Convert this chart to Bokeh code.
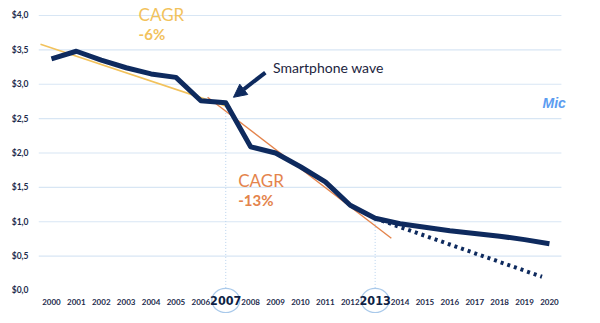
from bokeh.plotting import figure
from bokeh.models import FixedTicker, Arrow, NormalHead, Range1d, Label
from bokeh.core.properties import value
from bokeh.embed import file_html
from bokeh.resources import INLINE

# ---- data ----
years = list(range(2000, 2021))
price = [3.37, 3.48, 3.35, 3.24, 3.15, 3.10, 2.76, 2.73, 2.09, 2.00, 1.80, 1.58, 1.24, 1.05,
         0.97, 0.92, 0.87, 0.83, 0.79, 0.74, 0.68]
fc_years = [2013, 2019.7]
fc_price = [1.05, 0.20]
cagr1_x = [1999.56, 2007.2]
cagr1_y = [3.58, 2.66]
cagr2_x = [2006.27, 2013.65]
cagr2_y = [2.81, 0.76]
y_ticks = [0.0, 0.5, 1.0, 1.5, 2.0, 2.5, 3.0, 3.5, 4.0]
y_labels = ["$0,0", "$0,5", "$1,0", "$1,5", "$2,0", "$2,5", "$3,0", "$3,5", "$4,0"]
x_labels = [str(y) for y in years]
highlight_years = [2007, 2013]
highlight_price = [2.73, 1.05]

NAVY = "#0e2a5e"
YEL = "#f2c25c"
ORA = "#e4844c"
FONT = "Lato"
X0, X1 = 1999.48, 2020.48

p = figure(width=600, height=323, output_backend="svg", toolbar_location=None,
           x_range=Range1d(X0, 2022.05), y_range=Range1d(-0.48, 4.218),
           min_border_left=38, min_border_right=0, min_border_top=0, min_border_bottom=0)
p.outline_line_color = None
p.background_fill_color = "white"
p.xaxis.visible = False
p.xgrid.visible = False
p.ygrid.visible = False
p.yaxis.ticker = FixedTicker(ticks=y_ticks)
p.yaxis.major_label_overrides = {t: l for t, l in zip(y_ticks, y_labels)}
p.yaxis.axis_line_color = None
p.yaxis.major_tick_line_color = None
p.yaxis.minor_tick_line_color = None
p.yaxis.major_label_text_font = FONT
p.yaxis.major_label_text_font_style = "bold"
p.yaxis.major_label_text_font_size = "8.5px"
p.yaxis.major_label_text_color = "#1d2b4c"
p.yaxis.major_label_standoff = 4

# grid lines
g = y_ticks[1:]
p.segment(x0=[X0] * len(g), y0=g, x1=[X1] * len(g), y1=g,
          line_color="#d8e6f4", line_width=1.2)

# vertical dotted markers
for yr, pr in zip(highlight_years, highlight_price):
    p.segment(x0=[yr], y0=[-0.05], x1=[yr], y1=[pr], line_color="#b8d3ee",
              line_dash="1 2", line_width=1)

# CAGR lines
p.line(cagr1_x, cagr1_y, line_color=YEL, line_width=1.6)
p.line(cagr2_x, cagr2_y, line_color=ORA, line_width=1.4)

# main series
p.line(years, price, line_color=NAVY, line_width=5, line_join="round")
p.line(fc_years, fc_price, line_color=NAVY, line_width=4, line_dash="3 4")

# x labels
norm_x = [y for y in years if y not in highlight_years]
norm_l = [str(y) for y in norm_x]
p.text(x=norm_x, y=[-0.17] * len(norm_x), text=norm_l, text_font=value(FONT),
       text_font_style="bold", text_font_size="8px", text_color="#1d2b4c",
       text_align="center", text_baseline="middle")
p.ellipse(x=highlight_years, y=[-0.145] * 2, width=1.12, height=0.35,
          fill_color="white", line_color="#a9c9ea", line_width=1.2)
p.text(x=highlight_years, y=[-0.145] * 2, text=[str(y) for y in highlight_years],
       text_font=value("DejaVu Sans Condensed, Roboto"), text_font_style="bold",
       text_font_size="12.5px", text_color="#0e1f45",
       text_align="center", text_baseline="middle")

# annotations
def lab(x, y, t, color, size, style="normal", font=FONT):
    p.add_layout(Label(x=x, y=y, text=t, text_font=font, text_font_size=size,
                       text_font_style=style, text_color=color, text_baseline="middle"))

lab(2003.5, 4.01, "CAGR", YEL, "17px")
lab(2003.5, 3.73, "-6%", YEL, "15px", "bold")
lab(2007.5, 1.6, "CAGR", ORA, "17px")
lab(2007.5, 1.31, "-13%", ORA, "15px", "bold")
lab(2008.9, 3.24, "Smartphone wave", "#1c2540", "14px")
lab(2019.72, 2.72, "Mic", "#5b9cf0", "14px", "bold italic", "Liberation Sans")

p.add_layout(Arrow(end=NormalHead(size=13, fill_color=NAVY, line_color=NAVY),
                   x_start=2008.59, y_start=3.17, x_end=2007.31, y_end=2.81,
                   line_color=NAVY, line_width=4))

open("out.html", "w").write(file_html(p, INLINE))
